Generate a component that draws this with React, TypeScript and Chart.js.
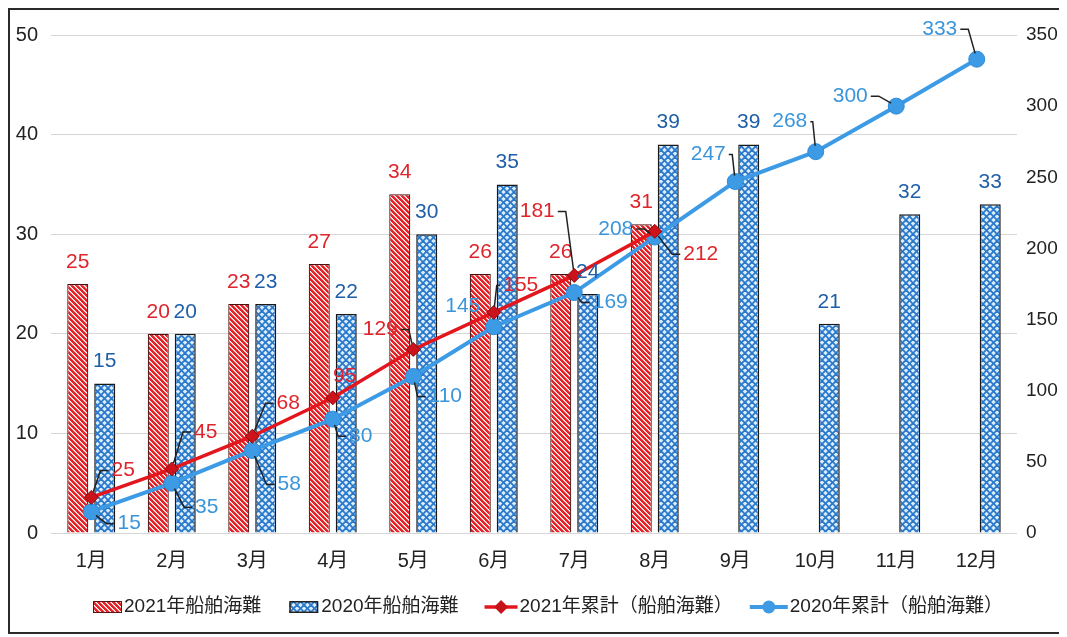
import React, { useEffect, useRef } from 'react';
import { Chart, registerables } from 'chart.js';

Chart.register(...registerables);

// ---------- data ----------
const months = ['1月', '2月', '3月', '4月', '5月', '6月', '7月', '8月', '9月', '10月', '11月', '12月'];
const accidents2021 = [25, 20, 23, 27, 34, 26, 26, 31, null, null, null, null];
const accidents2020 = [15, 20, 23, 22, 30, 35, 24, 39, 39, 21, 32, 33];
const cumulative2021 = [25, 45, 68, 95, 129, 155, 181, 212, null, null, null, null];
const cumulative2020 = [15, 35, 58, 80, 110, 145, 169, 208, 247, 268, 300, 333];
const leftTicks = [0, 10, 20, 30, 40, 50];
const rightTicks = [0, 50, 100, 150, 200, 250, 300, 350];
const seriesNames = ['2021年船舶海難', '2020年船舶海難', '2021年累計（船舶海難）', '2020年累計（船舶海難）'];

// ---------- label placement (layout only) ----------
const cum2021LabelOffsets = [[32, -27], [34, -37], [36, -33], [12, -22], [-33, -20], [27, -27], [-37, -64], [46, 23]];
const cum2020LabelOffsets = [[38, 12], [35, 24], [37, 34], [28, 17], [32, 20], [-31, -20], [36, 10], [-39, -8], [-27, -27], [-26, -30], [-46, -10], [-37, -30]];
const noLeader2021 = [3];
const noLeader2020 = [5];

// ---------- styles ----------
const FONT = '"Liberation Sans", "Noto Sans CJK JP", sans-serif';
const RED = '#e3161d';
const RED_TEXT = '#e0242b';
const BLUE_LINE = '#3d9be6';
const BLUE_TEXT = '#1f5fa8';
const BLUE_CUM_TEXT = '#3a95da';

function makeRedPattern(ctx: CanvasRenderingContext2D) {
  const s = 5;
  const c = document.createElement('canvas');
  c.width = s; c.height = s;
  const g = c.getContext('2d')!;
  const img = g.createImageData(s, s);
  for (let y = 0; y < s; y++) {
    for (let x = 0; x < s; x++) {
      const m = (((x - y) % s) + s) % s;
      const i = (y * s + x) * 4;
      let r = 255, gg = 255, b = 255;
      if (m <= 2) { r = 228; gg = 36; b = 40; }
      else if (m === 3) { r = 246; gg = 170; b = 170; }
      img.data[i] = r; img.data[i + 1] = gg; img.data[i + 2] = b; img.data[i + 3] = 255;
    }
  }
  g.putImageData(img, 0, 0);
  return ctx.createPattern(c, 'repeat')!;
}

function makeBluePattern(ctx: CanvasRenderingContext2D) {
  const s = 7;
  const c = document.createElement('canvas');
  c.width = s; c.height = s;
  const g = c.getContext('2d')!;
  g.fillStyle = '#dcedfa';
  g.fillRect(0, 0, s, s);
  g.strokeStyle = '#2a78cc';
  g.lineWidth = 1.8;
  for (let k = -1; k <= 1; k++) {
    g.beginPath();
    g.moveTo(k * s, 0);
    g.lineTo(k * s + s, s);
    g.stroke();
    g.beginPath();
    g.moveTo(k * s + s, 0);
    g.lineTo(k * s, s);
    g.stroke();
  }
  return ctx.createPattern(c, 'repeat')!;
}

function drawCumLabels(ctx: CanvasRenderingContext2D, meta: any, values: (number | null)[], offsets: number[][], color: string, skip: number[]) {
  meta.data.forEach((el: any, i: number) => {
    const v = values[i];
    if (v == null || !offsets[i]) return;
    const [dx, dy] = offsets[i];
    const px = el.x, py = el.y;
    const lx = px + dx, ly = py + dy;
    const text = String(v);
    const w = ctx.measureText(text).width;
    const dir = dx >= 0 ? 1 : -1;
    const edge = lx - dir * w / 2;
    if (skip.indexOf(i) < 0 && dir * (edge - px) > 6) {
      let cx = edge - dir * 11;
      if (dir * (cx - px) < 3) cx = px + dir * 3;
      const ex = edge - dir * 3;
      const vx = cx - px, vy = ly - py;
      const len = Math.sqrt(vx * vx + vy * vy) || 1;
      const sx = px + (vx / len) * 6, sy = py + (vy / len) * 6;
      ctx.strokeStyle = '#222';
      ctx.lineWidth = 1.5;
      ctx.beginPath();
      ctx.moveTo(sx, sy);
      ctx.lineTo(cx, ly);
      ctx.lineTo(ex, ly);
      ctx.stroke();
    }
    ctx.fillStyle = color;
    ctx.fillText(text, lx, ly);
  });
}

function makeLabelsPlugin() {
  return {
    id: 'customLabels',
    afterDatasetsDraw(chart: any) {
      const ctx: CanvasRenderingContext2D = chart.ctx;
      ctx.save();
      ctx.font = `21px ${FONT}`;
      ctx.textAlign = 'center';
      ctx.textBaseline = 'middle';
      const m0 = chart.getDatasetMeta(0);
      m0.data.forEach((el: any, i: number) => {
        const v = accidents2021[i];
        if (v == null) return;
        ctx.fillStyle = RED_TEXT;
        ctx.fillText(String(v), el.x, el.y - 22);
      });
      const m1 = chart.getDatasetMeta(1);
      m1.data.forEach((el: any, i: number) => {
        const v = accidents2020[i];
        if (v == null) return;
        ctx.fillStyle = BLUE_TEXT;
        ctx.fillText(String(v), el.x, el.y - 22);
      });
      drawCumLabels(ctx, chart.getDatasetMeta(2), cumulative2021, cum2021LabelOffsets, RED_TEXT, noLeader2021);
      drawCumLabels(ctx, chart.getDatasetMeta(3), cumulative2020, cum2020LabelOffsets, BLUE_CUM_TEXT, noLeader2020);
      ctx.restore();
    },
  };
}

function makeLegendPlugin(redPat: CanvasPattern, bluePat: CanvasPattern) {
  return {
    id: 'customLegend',
    afterDraw(chart: any) {
      const ctx: CanvasRenderingContext2D = chart.ctx;
      ctx.save();
      ctx.font = `19px ${FONT}`;
      ctx.textBaseline = 'middle';
      ctx.textAlign = 'left';
      const y = 597;
      let x = 83;
      // item 1
      ctx.fillStyle = redPat;
      ctx.fillRect(x, y - 6, 29, 12);
      ctx.strokeStyle = '#5a1414';
      ctx.lineWidth = 1;
      ctx.strokeRect(x + 0.5, y - 5.5, 28, 11);
      x += 31;
      ctx.fillStyle = '#222';
      ctx.fillText(seriesNames[0], x, y);
      x += ctx.measureText(seriesNames[0]).width + 28;
      // item 2
      ctx.fillStyle = bluePat;
      ctx.fillRect(x, y - 6, 29, 12);
      ctx.strokeStyle = '#222';
      ctx.lineWidth = 1.5;
      ctx.strokeRect(x + 0.75, y - 5.25, 27.5, 10.5);
      x += 32;
      ctx.fillStyle = '#222';
      ctx.fillText(seriesNames[1], x, y);
      x += ctx.measureText(seriesNames[1]).width + 26;
      // item 3
      ctx.strokeStyle = RED;
      ctx.lineWidth = 3.5;
      ctx.beginPath();
      ctx.moveTo(x, y);
      ctx.lineTo(x + 33, y);
      ctx.stroke();
      ctx.fillStyle = '#c8121a';
      ctx.beginPath();
      ctx.moveTo(x + 16.5, y - 7);
      ctx.lineTo(x + 23.5, y);
      ctx.lineTo(x + 16.5, y + 7);
      ctx.lineTo(x + 9.5, y);
      ctx.closePath();
      ctx.fill();
      x += 35;
      ctx.fillStyle = '#222';
      ctx.fillText(seriesNames[2], x, y);
      x += ctx.measureText(seriesNames[2]).width + 17;
      // item 4
      ctx.strokeStyle = BLUE_LINE;
      ctx.lineWidth = 4;
      ctx.beginPath();
      ctx.moveTo(x, y);
      ctx.lineTo(x + 38, y);
      ctx.stroke();
      ctx.fillStyle = BLUE_LINE;
      ctx.beginPath();
      ctx.arc(x + 19, y, 6.5, 0, Math.PI * 2);
      ctx.fill();
      x += 40;
      ctx.fillStyle = '#222';
      ctx.fillText(seriesNames[3], x, y);
      ctx.restore();
    },
  };
}

export default function App() {
  const ref = useRef<HTMLCanvasElement | null>(null);

  useEffect(() => {
    const canvas = ref.current;
    if (!canvas) return;
    const ctx = canvas.getContext('2d')!;
    const redPat = makeRedPattern(ctx);
    const bluePat = makeBluePattern(ctx);

    const chart = new Chart(canvas, {
      type: 'bar',
      data: {
        labels: months,
        datasets: [
          {
            type: 'bar',
            label: seriesNames[0],
            data: accidents2021 as any,
            backgroundColor: redPat as any,
            borderColor: '#4a1010',
            borderWidth: 1.2,
            yAxisID: 'y',
            order: 2,
            categoryPercentage: 0.67,
            barPercentage: 0.78,
          },
          {
            type: 'bar',
            label: seriesNames[1],
            data: accidents2020,
            backgroundColor: bluePat as any,
            borderColor: '#1a1a1a',
            borderWidth: 1.5,
            yAxisID: 'y',
            order: 2,
            categoryPercentage: 0.67,
            barPercentage: 0.78,
          },
          {
            type: 'line',
            label: seriesNames[2],
            data: cumulative2021 as any,
            borderColor: RED,
            borderWidth: 3.5,
            pointStyle: 'rectRot',
            pointRadius: 7,
            pointBackgroundColor: '#cc121a',
            pointBorderColor: '#8a0a0e',
            pointBorderWidth: 1,
            yAxisID: 'y1',
            order: 0,
            spanGaps: false,
          } as any,
          {
            type: 'line',
            label: seriesNames[3],
            data: cumulative2020,
            borderColor: BLUE_LINE,
            borderWidth: 4,
            pointStyle: 'circle',
            pointRadius: 8,
            pointBackgroundColor: BLUE_LINE,
            pointBorderColor: '#2f8bd8',
            pointBorderWidth: 1,
            yAxisID: 'y1',
            order: 1,
          } as any,
        ],
      },
      options: {
        animation: false,
        responsive: false,
        maintainAspectRatio: false,
        layout: { padding: { top: 21, bottom: 59, left: 0, right: 0 } },
        plugins: {
          legend: { display: false },
          tooltip: { enabled: false },
        },
        scales: {
          x: {
            grid: { display: false, drawTicks: false },
            border: { display: false },
            ticks: { font: { family: FONT, size: 20 }, color: '#222', padding: 16, maxRotation: 0 },
            afterFit: (s: any) => { s.height = 40; },
          },
          y: {
            position: 'left',
            min: 0,
            max: 50,
            afterBuildTicks: (s: any) => { s.ticks = leftTicks.map((v) => ({ value: v })); },
            grid: { color: '#d6d6d6', lineWidth: 1, drawTicks: false },
            border: { display: false },
            ticks: { font: { family: FONT, size: 20 }, color: '#222', padding: 13 },
            afterFit: (s: any) => { s.width = 41; },
          },
          y1: {
            position: 'right',
            min: 0,
            max: 350,
            afterBuildTicks: (s: any) => { s.ticks = rightTicks.map((v) => ({ value: v })); },
            grid: { display: false, drawTicks: false },
            border: { display: false },
            ticks: { font: { family: FONT, size: 19 }, color: '#222', padding: 9 },
            afterFit: (s: any) => { s.width = 43; },
          },
        },
      },
      plugins: [makeLabelsPlugin(), makeLegendPlugin(redPat, bluePat)],
    });

    return () => chart.destroy();
  }, []);

  return (
    <div
      style={{
        width: 1054,
        height: 626,
        border: '2px solid #2a2a2a',
        boxSizing: 'border-box',
        background: '#fff',
        overflow: 'hidden',
      }}
    >
      <canvas ref={ref} width={1050} height={622} style={{ display: 'block', width: 1050, height: 622 }} />
    </div>
  );
}
